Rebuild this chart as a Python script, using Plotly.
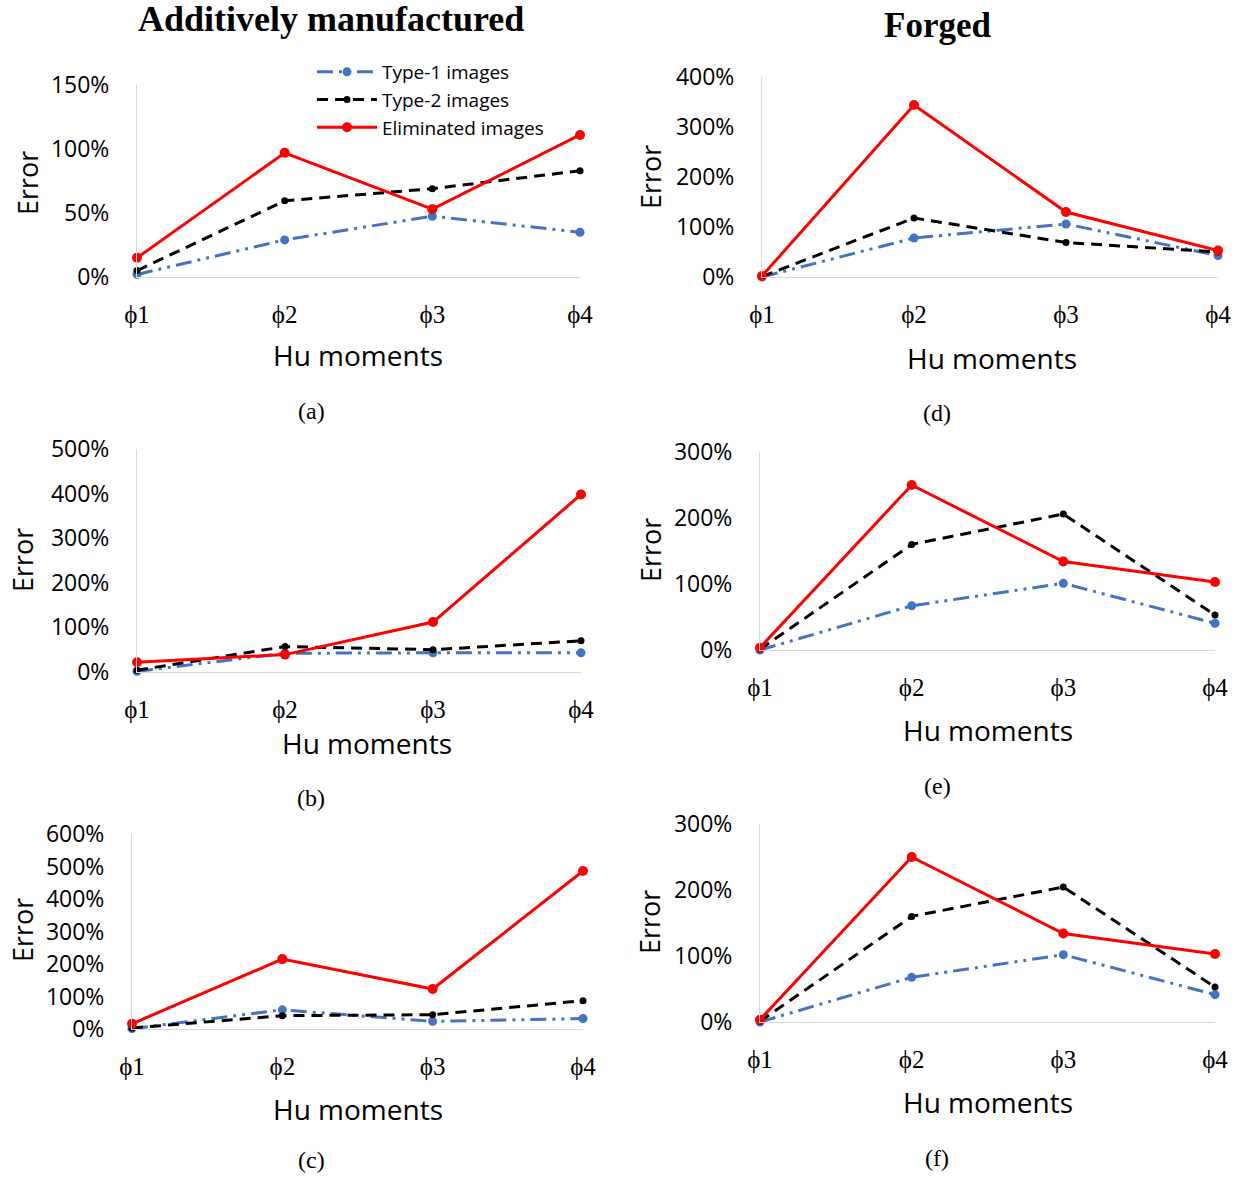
import plotly.graph_objects as go

W, H = 1246, 1178

moments = ["\u03d51", "\u03d52", "\u03d53", "\u03d54"]
series_names = ["Type-1 images", "Type-2 images", "Eliminated images"]

# Additively manufactured
type1_a = [2, 29, 47.5, 35]
type2_a = [5, 59.5, 69, 83]
elim_a = [15, 97, 53, 111]
type1_b = [1.5, 42, 43, 43]
type2_b = [4, 57, 50, 70]
elim_b = [22, 39, 112, 398]
type1_c = [1, 59, 23.5, 32]
type2_c = [3, 41, 44, 87]
elim_c = [16, 215, 123, 486]
# Forged
type1_d = [0, 78, 106, 43]
type2_d = [1, 118, 69, 50]
elim_d = [2, 344, 130, 53]
type1_e = [0, 67, 101, 40.5]
type2_e = [1, 160, 206, 53]
elim_e = [3.5, 250, 134, 103]
type1_f = [0, 67.7, 102, 41.4]
type2_f = [1, 160, 204.5, 53]
elim_f = [3.5, 250, 134, 103]

y_max = [150, 500, 600, 400, 300, 300]
y_step = [50, 100, 100, 100, 100, 100]
captions = ["(a)", "(b)", "(c)", "(d)", "(e)", "(f)"]

panels = [
    (type1_a, type2_a, elim_a),
    (type1_b, type2_b, elim_b),
    (type1_c, type2_c, elim_c),
    (type1_d, type2_d, elim_d),
    (type1_e, type2_e, elim_e),
    (type1_f, type2_f, elim_f),
]

# layout geometry (pixels): x0, x1, ytop, ybottom
boxes = [
    (137, 580, 85, 277),
    (137, 581, 449, 672),
    (132, 583, 834, 1029),
    (762, 1218, 77, 277),
    (760, 1215, 452, 650),
    (760, 1215, 824, 1022),
]
error_pos = [(28, 183), (22, 560), (22, 930), (650, 177), (650, 550), (650, 922)]
hu_pos = [(358, 355), (367, 743), (358, 1109), (992, 358), (988, 730), (988, 1102)]
cap_pos = [(311, 411), (311, 798), (311, 1160), (937, 413), (937, 786), (937, 1158)]


def px(x):
    return x / W


def py(y):
    return 1 - y / H


styles = [
    dict(color="#4472C4", width=3, dash="16px,6px,3px,6px,3px,6px"),
    dict(color="#000000", width=3, dash="11px,7px"),
    dict(color="#FF0000", width=3, dash="solid"),
]
markers = [
    dict(color="#4472C4", size=9, symbol="circle"),
    dict(color="#000000", size=7, symbol="circle"),
    dict(color="#FF0000", size=10, symbol="circle"),
]

fig = go.Figure()
layout = dict(
    width=W, height=H, margin=dict(l=0, r=0, t=0, b=0, autoexpand=False),
    paper_bgcolor="white", plot_bgcolor="white",
    showlegend=True, template="none",
)

tick_font = dict(family="Open Sans", size=23, color="#000")
phi_font = dict(family="Liberation Serif", size=25, color="#000")

for i, (vals, box) in enumerate(zip(panels, boxes)):
    n = i + 1
    xa = "x" if n == 1 else f"x{n}"
    ya = "y" if n == 1 else f"y{n}"
    for s, v in enumerate(vals):
        fig.add_trace(go.Scatter(
            x=[0, 1, 2, 3], y=v, mode="lines+markers",
            name=series_names[s], line=styles[s], marker=markers[s],
            xaxis=xa, yaxis=ya, cliponaxis=False,
            showlegend=(n == 1), legendgroup=f"g{s}",
        ))
    x0, x1, yt, yb = box
    layout["xaxis" if n == 1 else f"xaxis{n}"] = dict(
        domain=[px(x0), px(x1)], anchor=ya, range=[0, 3], automargin=False,
        tickmode="array", tickvals=[0, 1, 2, 3], ticktext=moments,
        showgrid=False, zeroline=False, showline=True, linecolor="#D9D9D9",
        linewidth=1, ticks="", tickfont=phi_font, ticklabelstandoff=15,
    )
    layout["yaxis" if n == 1 else f"yaxis{n}"] = dict(
        domain=[py(yb), py(yt)], anchor=xa, range=[0, y_max[i]], automargin=False,
        tickmode="linear", tick0=0, dtick=y_step[i], ticksuffix="%",
        showgrid=False, zeroline=False, showline=True, linecolor="#D9D9D9",
        linewidth=1, ticks="", tickfont=tick_font, ticklabelstandoff=22,
    )

ann = []
for i in range(6):
    ex, ey = error_pos[i]
    ann.append(dict(text="Error", x=px(ex), y=py(ey), xref="paper", yref="paper",
                    xanchor="center", yanchor="middle",
                    showarrow=False, textangle=-90,
                    font=dict(family="Open Sans", size=27, color="#000")))
    hx, hy = hu_pos[i]
    ann.append(dict(text="Hu moments", x=px(hx), y=py(hy), xref="paper", yref="paper",
                    xanchor="center", yanchor="middle", showarrow=False,
                    font=dict(family="Open Sans", size=28, color="#000")))
    cx, cy = cap_pos[i]
    ann.append(dict(text=captions[i], x=px(cx), y=py(cy), xref="paper", yref="paper",
                    xanchor="center", yanchor="middle", showarrow=False,
                    font=dict(family="Liberation Serif", size=24, color="#000")))

ann.append(dict(text="<b>Additively manufactured</b>", x=px(331), y=py(19),
                xref="paper", yref="paper", xanchor="center", yanchor="middle",
                showarrow=False,
                font=dict(family="Liberation Serif", size=36, color="#000")))
ann.append(dict(text="<b>Forged</b>", x=px(937), y=py(25),
                xref="paper", yref="paper", xanchor="center", yanchor="middle",
                showarrow=False,
                font=dict(family="Liberation Serif", size=35, color="#000")))

layout["annotations"] = ann
layout["legend"] = dict(
    x=px(312), y=py(53), xanchor="left", yanchor="top",
    bgcolor="rgba(0,0,0,0)", font=dict(family="Open Sans", size=19, color="#000"),
    itemwidth=60, tracegroupgap=3, traceorder="normal",
)
fig.update_layout(**layout)
fig.write_html("out.html")
